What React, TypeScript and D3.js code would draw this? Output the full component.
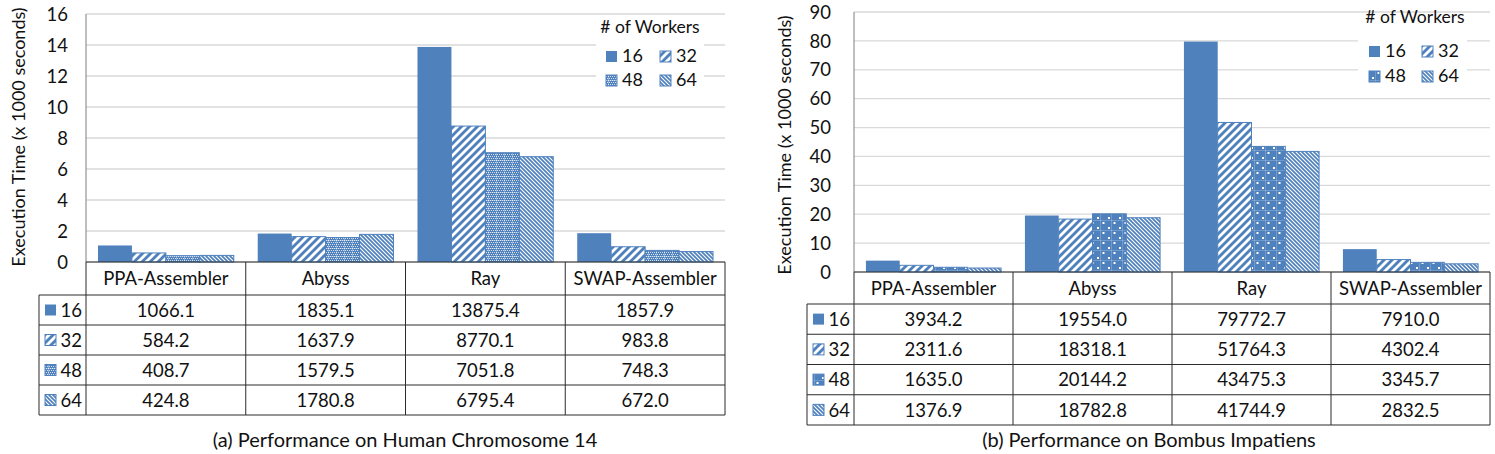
import React from "react";
import * as d3 from "d3";

const categories = ["PPA-Assembler", "Abyss", "Ray", "SWAP-Assembler"];
const workers = ["16", "32", "48", "64"];

// Human Chromosome 14 (seconds)
const human16 = [1066.1, 1835.1, 13875.4, 1857.9];
const human32 = [584.2, 1637.9, 8770.1, 983.8];
const human48 = [408.7, 1579.5, 7051.8, 748.3];
const human64 = [424.8, 1780.8, 6795.4, 672.0];

// Bombus Impatiens (seconds)
const bombus16 = [3934.2, 19554.0, 79772.7, 7910.0];
const bombus32 = [2311.6, 18318.1, 51764.3, 4302.4];
const bombus48 = [1635.0, 20144.2, 43475.3, 3345.7];
const bombus64 = [1376.9, 18782.8, 41744.9, 2832.5];

const humanTicks = [0, 2, 4, 6, 8, 10, 12, 14, 16];
const bombusTicks = [0, 10, 20, 30, 40, 50, 60, 70, 80, 90];

const BLUE = "#4F81BD";
const FONT = "Lato, 'Open Sans', sans-serif";

type Layout = {
  id: string;
  x0: number; x1: number; yTop: number; yBot: number;
  tickX: number; axisTitleX: number; axisTitleY: number;
  labelX0: number; headerBot: number; rowH: number;
  title: string; titleX: number; titleY: number;
  lg: { boxX: number; boxY: number; boxW: number; boxH: number; titleX: number; titleY: number; c1: number; c2: number; r1: number; r2: number; sw: number };
  p48: string;
};

function Patterns() {
  return (
    <defs>
      <pattern id="p32" patternUnits="userSpaceOnUse" width="8" height="8">
        <rect width="8" height="8" fill={BLUE} />
        <path d="M-2,2 L2,-2 M0,8 L8,0 M6,10 L10,6" stroke="#fff" strokeWidth="2.8" />
      </pattern>
      <pattern id="p64" patternUnits="userSpaceOnUse" width="4" height="4">
        <rect width="4" height="4" fill={BLUE} />
        <path d="M0,0 L4,4 M-1,3 L1,5 M3,-1 L5,1" stroke="#fff" strokeWidth="1.1" />
      </pattern>
      <pattern id="p48a" patternUnits="userSpaceOnUse" width="8" height="8">
        <rect width="8" height="8" fill={BLUE} />
        {[0, 2, 4, 6].map((y) =>
          [0, 2, 4, 6].map((x) => (
            <rect key={x + "-" + y} x={x + ((y / 2) % 2)} y={y} width="1" height="1" fill="#fff" opacity="0.75" />
          ))
        )}
        <rect x="0" y="0" width="8" height="1" fill="#fff" opacity="0.3" />
        <rect x="0" y="0" width="1" height="8" fill="#fff" opacity="0.3" />
      </pattern>
      <pattern id="p48b" patternUnits="userSpaceOnUse" width="11" height="10">
        <rect width="11" height="10" fill={BLUE} />
        <rect x="0" y="0" width="11" height="0.8" fill="#fff" opacity="0.25" />
        <rect x="0" y="0" width="0.8" height="10" fill="#fff" opacity="0.25" />
        <rect x="2.5" y="2" width="2" height="2" fill="#fff" />
        <rect x="8" y="7" width="2" height="2" fill="#fff" />
      </pattern>
    </defs>
  );
}

function Panel({ L, series }: { L: Layout; series: number[][] }) {
  const ticks = L.id === "a" ? humanTicks : bombusTicks;
  const yMax = ticks[ticks.length - 1];
  const y = d3.scaleLinear().domain([0, yMax]).range([L.yBot, L.yTop]);
  const x = d3.scaleBand<string>().domain(categories).range([L.x0, L.x1]).paddingInner(0.15).paddingOuter(0.075);
  const xi = d3.scaleBand<string>().domain(workers).range([0, x.bandwidth()]).padding(0);
  const cell = d3.scaleBand<string>().domain(categories).range([L.x0, L.x1]);
  const fills = [BLUE, "url(#p32)", `url(#${L.p48})`, "url(#p64)"];
  const fillOf = (i: number) => fills[i];
  const rowTop = (r: number) => L.headerBot + r * L.rowH;
  const tableBot = rowTop(workers.length);
  const lineC = "#2b2b2b";
  const TS = 18.5;
  return (
    <g>
      {ticks.map((t) => (
        <line key={t} x1={L.x0} x2={L.x1} y1={y(t)} y2={y(t)} stroke="#D9D9D9" strokeWidth="1.3" />
      ))}
      {ticks.map((t) => (
        <text key={"l" + t} x={L.tickX} y={y(t)} dy="0.36em" textAnchor="end" fontSize="18.5" fontFamily={FONT} fill="#111">
          {t}
        </text>
      ))}
      <text transform={`translate(${L.axisTitleX},${L.axisTitleY}) rotate(-90)`} textAnchor="middle" dy="0.35em" fontSize="18" fontFamily={FONT} fill="#111">
        Execution Time (x 1000 seconds)
      </text>
      <rect x={L.lg.boxX} y={L.lg.boxY} width={L.lg.boxW} height={L.lg.boxH} fill="#fff" />
      {series.map((vals, si) =>
        vals.map((v, ci) => {
          const bx = (x(categories[ci]) as number) + (xi(workers[si]) as number);
          const top = y(v / 1000);
          return (
            <rect key={si + "-" + ci} x={bx} y={top} width={xi.bandwidth()} height={L.yBot - top}
              fill={fillOf(si)} stroke={si === 0 ? "none" : BLUE} strokeWidth="1" />
          );
        })
      )}
      <line x1={L.x0} x2={L.x0} y1={L.yTop} y2={L.yBot} stroke="#7f7f7f" strokeWidth="1" />
      <text x={L.lg.titleX} y={L.lg.titleY} textAnchor="middle" fontSize="17.5" fontFamily={FONT} fill="#111"># of Workers</text>
      {workers.map((w, i) => {
        const cx = i % 2 === 0 ? L.lg.c1 : L.lg.c2;
        const ry = i < 2 ? L.lg.r1 : L.lg.r2;
        return (
          <g key={"lg" + w}>
            <rect x={cx} y={ry - L.lg.sw} width={L.lg.sw} height={L.lg.sw} fill={fillOf(i)} stroke={i === 0 ? "none" : BLUE} strokeWidth="1" />
            <text x={cx + L.lg.sw + 5} y={ry} fontSize="18" fontFamily={FONT} fill="#111">{w}</text>
          </g>
        );
      })}
      {categories.map((c) => (
        <text key={"h" + c} x={(cell(c) as number) + cell.bandwidth() / 2} y={(L.yBot + L.headerBot) / 2} dy="0.36em" textAnchor="middle" fontSize={TS} fontFamily={FONT} fill="#111">
          {c}
        </text>
      ))}
      {series.map((vals, si) => (
        <g key={"row" + si}>
          <rect x={L.labelX0 + 6} y={rowTop(si) + L.rowH / 2 - 5.5} width="11" height="11" fill={fillOf(si)} stroke={si === 0 ? "none" : BLUE} strokeWidth="1" />
          <text x={L.x0 - 4} y={rowTop(si) + L.rowH / 2} dy="0.36em" textAnchor="end" fontSize={TS} fontFamily={FONT} fill="#111">{workers[si]}</text>
          {vals.map((v, ci) => (
            <text key={ci} x={(cell(categories[ci]) as number) + cell.bandwidth() / 2} y={rowTop(si) + L.rowH / 2} dy="0.36em" textAnchor="middle" fontSize={TS} fontFamily={FONT} fill="#111">
              {v.toFixed(1)}
            </text>
          ))}
        </g>
      ))}
      <line x1={L.x0} x2={L.x1} y1={L.yBot} y2={L.yBot} stroke={lineC} />
      {d3.range(workers.length + 1).map((r) => (
        <line key={"hl" + r} x1={L.labelX0} x2={L.x1} y1={rowTop(r)} y2={rowTop(r)} stroke={lineC} />
      ))}
      <line x1={L.labelX0} x2={L.labelX0} y1={L.headerBot} y2={tableBot} stroke={lineC} />
      {categories.map((c) => (
        <line key={"vl" + c} x1={cell(c) as number} x2={cell(c) as number} y1={L.yBot} y2={tableBot} stroke={lineC} />
      ))}
      <line x1={L.x1} x2={L.x1} y1={L.yBot} y2={tableBot} stroke={lineC} />
      <text x={L.titleX} y={L.titleY} textAnchor="middle" fontSize="20" fontFamily={FONT} fill="#111">{L.title}</text>
    </g>
  );
}

const layoutA: Layout = {
  id: "a", x0: 86, x1: 725, yTop: 14, yBot: 262, tickX: 68, axisTitleX: 19, axisTitleY: 137,
  labelX0: 39, headerBot: 295, rowH: 30, title: "(a) Performance on Human Chromosome 14", titleX: 405, titleY: 447,
  lg: { boxX: 596, boxY: 17, boxW: 108, boxH: 73, titleX: 650, titleY: 33, c1: 606, c2: 660, r1: 62, r2: 86, sw: 11 },
  p48: "p48a",
};
const layoutB: Layout = {
  id: "b", x0: 854, x1: 1490, yTop: 12, yBot: 272, tickX: 831, axisTitleX: 785, axisTitleY: 145,
  labelX0: 807, headerBot: 304, rowH: 30.25, title: "(b) Performance on Bombus Impatiens", titleX: 1149, titleY: 447,
  lg: { boxX: 1358, boxY: 14, boxW: 109, boxH: 74, titleX: 1415, titleY: 23, c1: 1369, c2: 1422, r1: 57, r2: 82, sw: 11 },
  p48: "p48b",
};

export default function App() {
  return (
    <svg width={1495} height={454} style={{ position: "absolute", left: 0, top: 0, background: "#fff" }}>
      <Patterns />
      <rect width={1495} height={454} fill="#fff" />
      <Panel L={layoutA} series={[human16, human32, human48, human64]} />
      <Panel L={layoutB} series={[bombus16, bombus32, bombus48, bombus64]} />
    </svg>
  );
}
